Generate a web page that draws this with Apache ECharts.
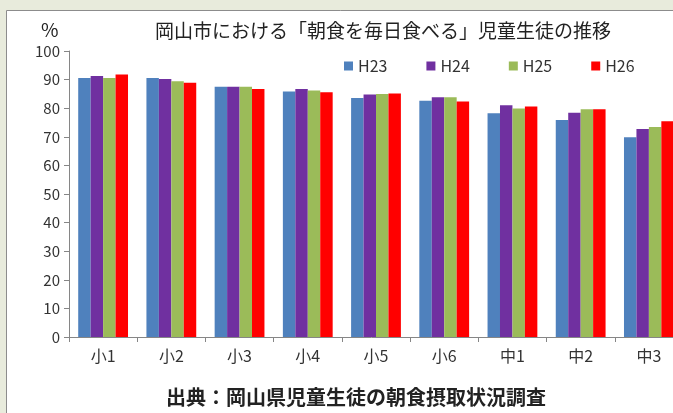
<!DOCTYPE html>
<html>
<head>
<meta charset="utf-8">
<script src="https://cdn.jsdelivr.net/npm/echarts@6/dist/echarts.min.js"></script>
<style>
  html, body { margin: 0; padding: 0; background: #e8ebdc; }
  #chart { width: 673px; height: 413px; }
</style>
</head>
<body>
<div id="chart"></div>
<script>
// categories (school grade) and series values (%)
var grades = ['小1', '小2', '小3', '小4', '小5', '小6', '中1', '中2', '中3']
var h23 = [90.6, 90.6, 87.5, 85.8, 83.6, 82.6, 78.2, 75.9, 69.8]
var h24 = [91.3, 90.2, 87.5, 86.7, 84.8, 83.8, 81.0, 78.4, 72.7]
var h25 = [90.6, 89.4, 87.5, 86.2, 85.0, 83.8, 79.9, 79.6, 73.4]
var h26 = [91.8, 88.9, 86.7, 85.6, 85.1, 82.3, 80.6, 79.6, 75.4]
var seriesNames = ['H23', 'H24', 'H25', 'H26']
var colors = ['#4f81bd', '#7030a0', '#9bbb59', '#ff0000']

var font = '"Noto Sans CJK JP", "Noto Sans", sans-serif'
var chart = echarts.init(document.getElementById('chart'))

var values = [h23, h24, h25, h26]
var series = seriesNames.map(function (name, i) {
    return {
        name: name,
        type: 'bar',
        data: values[i],
        itemStyle: { color: colors[i] },
        barGap: '0%',
        barCategoryGap: '27%'
    }
})

chart.setOption({
    backgroundColor: '#e8ebdc',
    textStyle: { fontFamily: font },
    graphic: [
        {
            type: 'rect',
            z: -10,
            shape: { x: 6.5, y: 10.5, width: 700, height: 450 },
            style: { fill: '#ffffff', stroke: '#8c8c8c', lineWidth: 1 }
        },
        {
            type: 'text',
            left: 41, top: 20,
            style: { text: '%', fontSize: 19, fill: '#222', fontFamily: font }
        },
        {
            type: 'text',
            left: 166, top: 387,
            style: { text: '出典：岡山県児童生徒の朝食摂取状況調査', fontSize: 20, fontWeight: 'bold', fill: '#222', fontFamily: font }
        }
    ],
    title: {
        text: '岡山市における「朝食を毎日食べる」児童生徒の推移',
        left: 150, top: 16,
        textStyle: { fontSize: 19, fontWeight: 'normal', color: '#222', fontFamily: font }
    },
    legend: {
        data: seriesNames,
        left: 339, top: 53,
        itemWidth: 9, itemHeight: 9, itemGap: 39,
        icon: 'rect',
        textStyle: { fontSize: 16, color: '#333', fontFamily: font }
    },
    grid: {
        left: 69, top: 51, width: 614, height: 286,
        containLabel: false,
        outerBoundsMode: 'none'
    },
    xAxis: {
        type: 'category',
        data: grades,
        axisLine: { lineStyle: { color: '#868686' } },
        axisTick: { show: true, length: 5, lineStyle: { color: '#868686' } },
        axisLabel: { fontSize: 16, color: '#333', margin: 11, fontFamily: font }
    },
    yAxis: {
        type: 'value',
        min: 0, max: 100, interval: 10,
        axisLine: { show: true, lineStyle: { color: '#868686' } },
        axisTick: { show: true, length: 5, lineStyle: { color: '#868686' } },
        splitLine: { show: false },
        axisLabel: { fontSize: 15, color: '#333', margin: 9, fontFamily: font }
    },
    series: series
})
</script>
</body>
</html>
